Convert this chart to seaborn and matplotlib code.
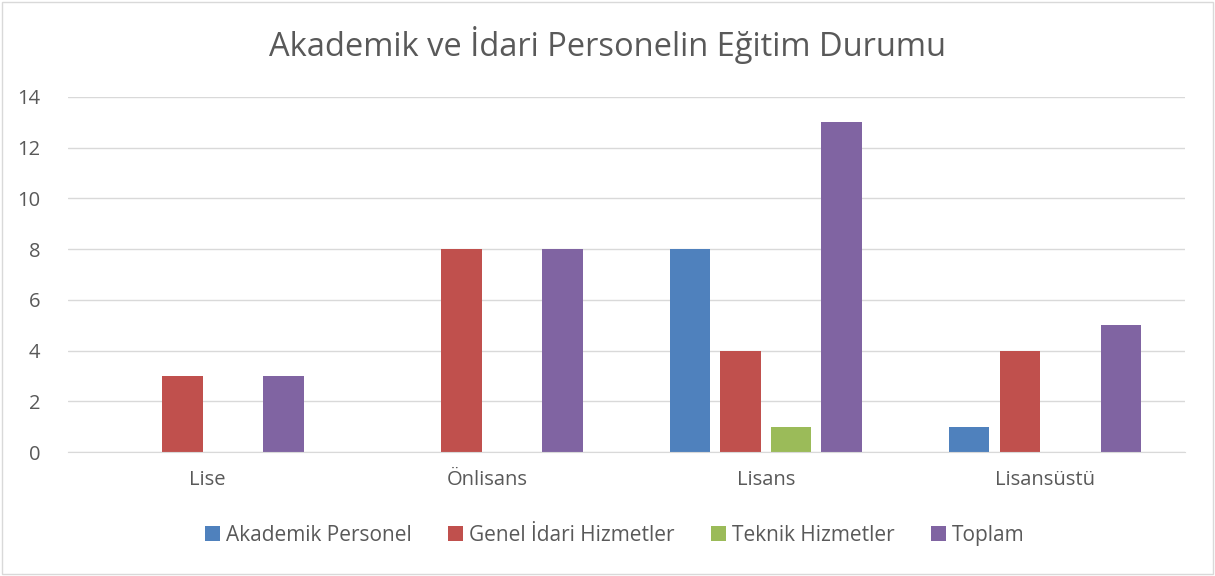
import numpy as np
import matplotlib.pyplot as plt
import seaborn as sns
import pandas as pd
from matplotlib.patches import Rectangle

categories = ["Lise", "Önlisans", "Lisans", "Lisansüstü"]
series = ["Akademik Personel", "Genel İdari Hizmetler", "Teknik Hizmetler", "Toplam"]
akademik = [0, 0, 8, 1]
genel_idari = [3, 8, 4, 4]
teknik = [0, 0, 1, 0]
toplam = [3, 8, 13, 5]

colors = ['#4F81BD', '#C0504D', '#9BBB59', '#8064A2']

rows = []
for name, vals in zip(series, [akademik, genel_idari, teknik, toplam]):
    for cat, v in zip(categories, vals):
        rows.append({"Kategori": cat, "Seri": name, "Değer": v})
df = pd.DataFrame(rows)

sns.set_style("white")
plt.rcParams['font.family'] = ['Open Sans', 'DejaVu Sans']

fig = plt.figure(figsize=(12.15, 5.76), dpi=100)
ax = fig.add_axes([0.056, 0.215, 0.919, 0.617])

sns.barplot(data=df, x="Kategori", y="Değer", hue="Seri", order=categories,
            hue_order=series, palette=colors, width=0.724, gap=0.2,
            saturation=1, linewidth=0, ax=ax, legend=True)

ax.set_ylim(0, 14)
ax.set_xlim(-0.5, 3.5)
ax.set_yticks(range(0, 15, 2))
ax.yaxis.grid(True, color='#D9D9D9', linewidth=1)
ax.set_axisbelow(True)
for s in ['top', 'right', 'left']:
    ax.spines[s].set_visible(False)
ax.spines['bottom'].set_color('#D9D9D9')
ax.tick_params(axis='both', length=0, labelsize=14.5, labelcolor='#595959')
ax.tick_params(axis='x', pad=13)
ax.tick_params(axis='y', pad=20)
ax.set_xlabel('')
ax.set_ylabel('')

fig.suptitle('Akademik ve İdari Personelin Eğitim Durumu', fontsize=23.5,
             color='#595959', y=0.955)

handles, labels = ax.get_legend_handles_labels()
ax.legend_.remove()
fig.legend(handles, labels, loc='center', bbox_to_anchor=(0.506, 0.071), ncol=4,
           frameon=False, fontsize=15, handlelength=0.7, handleheight=0.7,
           handletextpad=0.3, columnspacing=1.75, labelcolor='#595959')

fig.patches.append(Rectangle((0.002, 0.003), 0.996, 0.994, transform=fig.transFigure,
                             fill=False, edgecolor='#D9D9D9', linewidth=1))

plt.savefig('out.png', dpi=100)
